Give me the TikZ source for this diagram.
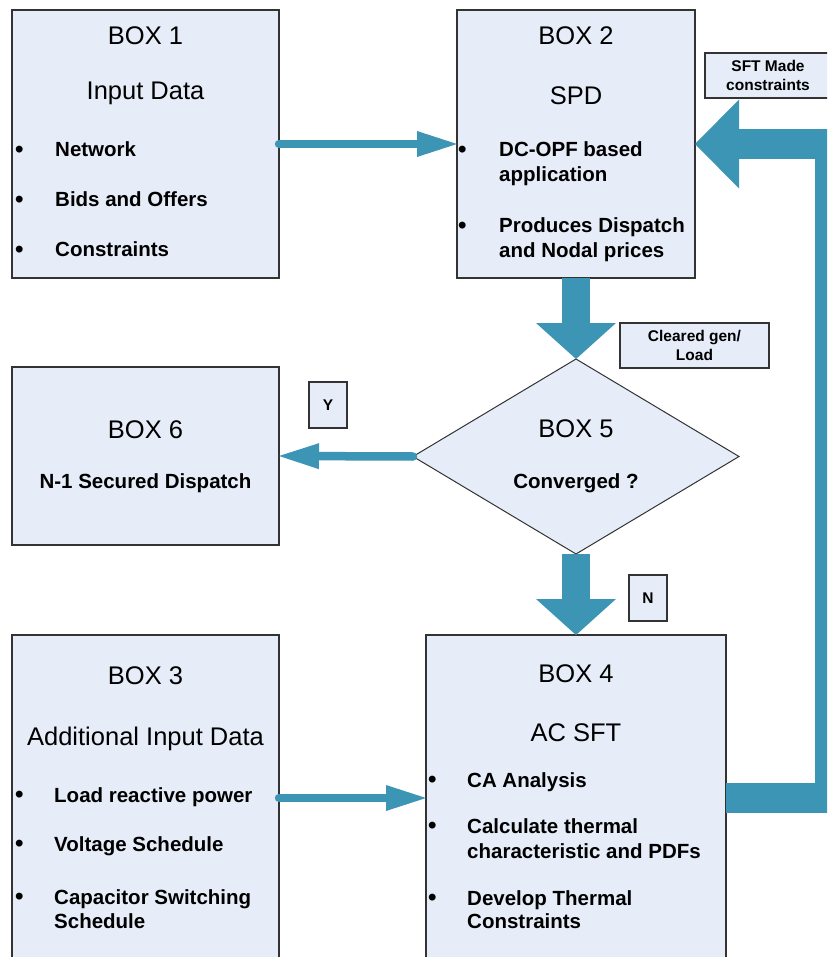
\documentclass[tikz,border=0pt]{standalone}
\usepackage{fontspec}
\setmainfont{Liberation Sans}
\usetikzlibrary{arrows.meta,shapes.geometric,positioning}
\definecolor{boxfill}{RGB}{230,237,248}
\definecolor{flowblue}{RGB}{61,149,181}
\definecolor{boxline}{RGB}{51,51,51}
\newcommand{\bdot}{{\fontsize{24}{24}\selectfont\raisebox{-0.8pt}{\textbullet}}}

\begin{document}
\begin{tikzpicture}[x=1pt,y=-1pt,
	box/.style={draw=boxline,line width=1.5pt,fill=boxfill,inner sep=0pt,outer sep=0pt,minimum width=267pt},
	tag/.style={draw=boxline,line width=1.5pt,fill=boxfill,inner sep=0pt,align=center,font=\bfseries\fontsize{15.5}{18.5}\selectfont},
	title/.style={anchor=base,inner sep=0pt,font=\fontsize{25.5}{30}\selectfont},
	btext/.style={anchor=base,inner sep=0pt,font=\bfseries\fontsize{20.5}{25}\selectfont},
	item/.style={anchor=base west,inner sep=0pt,font=\bfseries\fontsize{20.5}{25}\selectfont},
	flow/.style={draw=flowblue,line width=8.5pt,line cap=round,-{Triangle[length=40pt,width=26pt,line width=0pt]}},
	downflow/.style={draw=flowblue,line width=28pt,-{Triangle[length=36pt,width=80pt,line width=0pt]}},
	bigflow/.style={draw=flowblue,line width=30pt,-{Triangle[length=44pt,width=89pt,line width=0pt]}}]
	
	\clip (0,0) rectangle (827,957);
	
	% boxes
	\node[box,minimum height=268pt,anchor=north west] (b1) at (12,10) {};
	\node[box,minimum width=238pt,minimum height=268pt] (b2) [right=178pt of b1] {};
	\node[box,minimum height=178pt] (b6) [below=89pt of b1] {};
	\node[box,minimum height=326pt] (b3) [below=90pt of b6] {};
	\node[box,shape=diamond,line width=1pt,minimum width=326pt,minimum height=195pt] (d5) [below=81pt of b2] {};
	\node[box,minimum width=300pt,minimum height=326pt] (b4) [below=81pt of d5] {};
	
	% box 1
	\node[title] (b1t) at ([yshift=-35pt]b1.north) {BOX 1};
	\node[title] (b1s) at ([yshift=-90pt]b1.north) {Input Data};
	\node[item] (b1a) at ([xshift=3pt,yshift=-147pt]b1.north west) {\makebox[40pt][l]{\bdot}Network};
	\node[item] (b1b) at ([xshift=3pt,yshift=-197pt]b1.north west) {\makebox[40pt][l]{\bdot}Bids and Offers};
	\node[item] (b1c) at ([xshift=3pt,yshift=-247pt]b1.north west) {\makebox[40pt][l]{\bdot}Constraints};
	
	% box 2
	\node[title] (b2t) at ([yshift=-35pt]b2.north) {BOX 2};
	\node[title] (b2s) at ([yshift=-95pt]b2.north) {SPD};
	\node[item] (b2a) at ([xshift=1pt,yshift=-147pt]b2.north west) {\makebox[41pt][l]{\bdot}DC-OPF based};
	\node[item] (b2a2) at ([xshift=42pt,yshift=-172pt]b2.north west) {application};
	\node[item] (b2b) at ([xshift=1pt,yshift=-223pt]b2.north west) {\makebox[41pt][l]{\bdot}Produces Dispatch};
	\node[item] (b2b2) at ([xshift=42pt,yshift=-248pt]b2.north west) {and Nodal prices};
	
	% box 5
	\node[title] (d5t) at ([yshift=-78pt]d5.north) {BOX 5};
	\node[btext] (d5s) at ([yshift=-129pt]d5.north) {Converged ?};
	
	% box 6
	\node[title] (b6t) at ([yshift=-71pt]b6.north) {BOX 6};
	\node[btext] (b6s) at ([yshift=-121pt]b6.north) {N-1 Secured Dispatch};
	
	% box 3
	\node[title] (b3t) at ([yshift=-49pt]b3.north) {BOX 3};
	\node[title] (b3s) at ([yshift=-110pt]b3.north) {Additional Input Data};
	\node[item] (b3a) at ([xshift=3pt,yshift=-167pt]b3.north west) {\makebox[39pt][l]{\bdot}Load reactive power};
	\node[item] (b3b) at ([xshift=3pt,yshift=-216pt]b3.north west) {\makebox[39pt][l]{\bdot}Voltage Schedule};
	\node[item] (b3c) at ([xshift=3pt,yshift=-269pt]b3.north west) {\makebox[39pt][l]{\bdot}Capacitor Switching};
	\node[item] (b3c2) at ([xshift=42pt,yshift=-293pt]b3.north west) {Schedule};
	
	% box 4
	\node[title] (b4t) at ([yshift=-47pt]b4.north) {BOX 4};
	\node[title] (b4s) at ([yshift=-106pt]b4.north) {AC SFT};
	\node[item] (b4a) at ([xshift=2pt,yshift=-152pt]b4.north west) {\makebox[39pt][l]{\bdot}CA Analysis};
	\node[item] (b4b) at ([xshift=2pt,yshift=-198pt]b4.north west) {\makebox[39pt][l]{\bdot}Calculate thermal};
	\node[item] (b4b2) at ([xshift=41pt,yshift=-223pt]b4.north west) {characteristic and PDFs};
	\node[item] (b4c) at ([xshift=2pt,yshift=-270pt]b4.north west) {\makebox[39pt][l]{\bdot}Develop Thermal};
	\node[item] (b4c2) at ([xshift=41pt,yshift=-293pt]b4.north west) {Constraints};
	
	% labels
	\node[tag,minimum width=126pt,minimum height=45pt] (sft) at (768,75.5) {SFT Made\\constraints};
	\node[tag,minimum width=149pt,minimum height=45pt] (clr) at (694.5,345.5) {Cleared gen/\\Load};
	\node[tag,minimum width=38pt,minimum height=46pt] (yes) at (328,405) {Y};
	\node[tag,minimum width=38pt,minimum height=46pt] (no) at (648,598) {N};
	
	% arrows
	\draw[flow] (b1.east) -- (b2.west);
	\draw[flow] (b3.east) -- (b4.west);
	\draw[flow] (d5.west) -- (b6.east);
	\draw[downflow] (b2.south) -- (d5.north);
	\draw[downflow] (d5.south) -- (b4.north);
	\draw[bigflow] (b4.east) -- ++(104,0) |- (b2.east);
\end{tikzpicture}
\end{document}
